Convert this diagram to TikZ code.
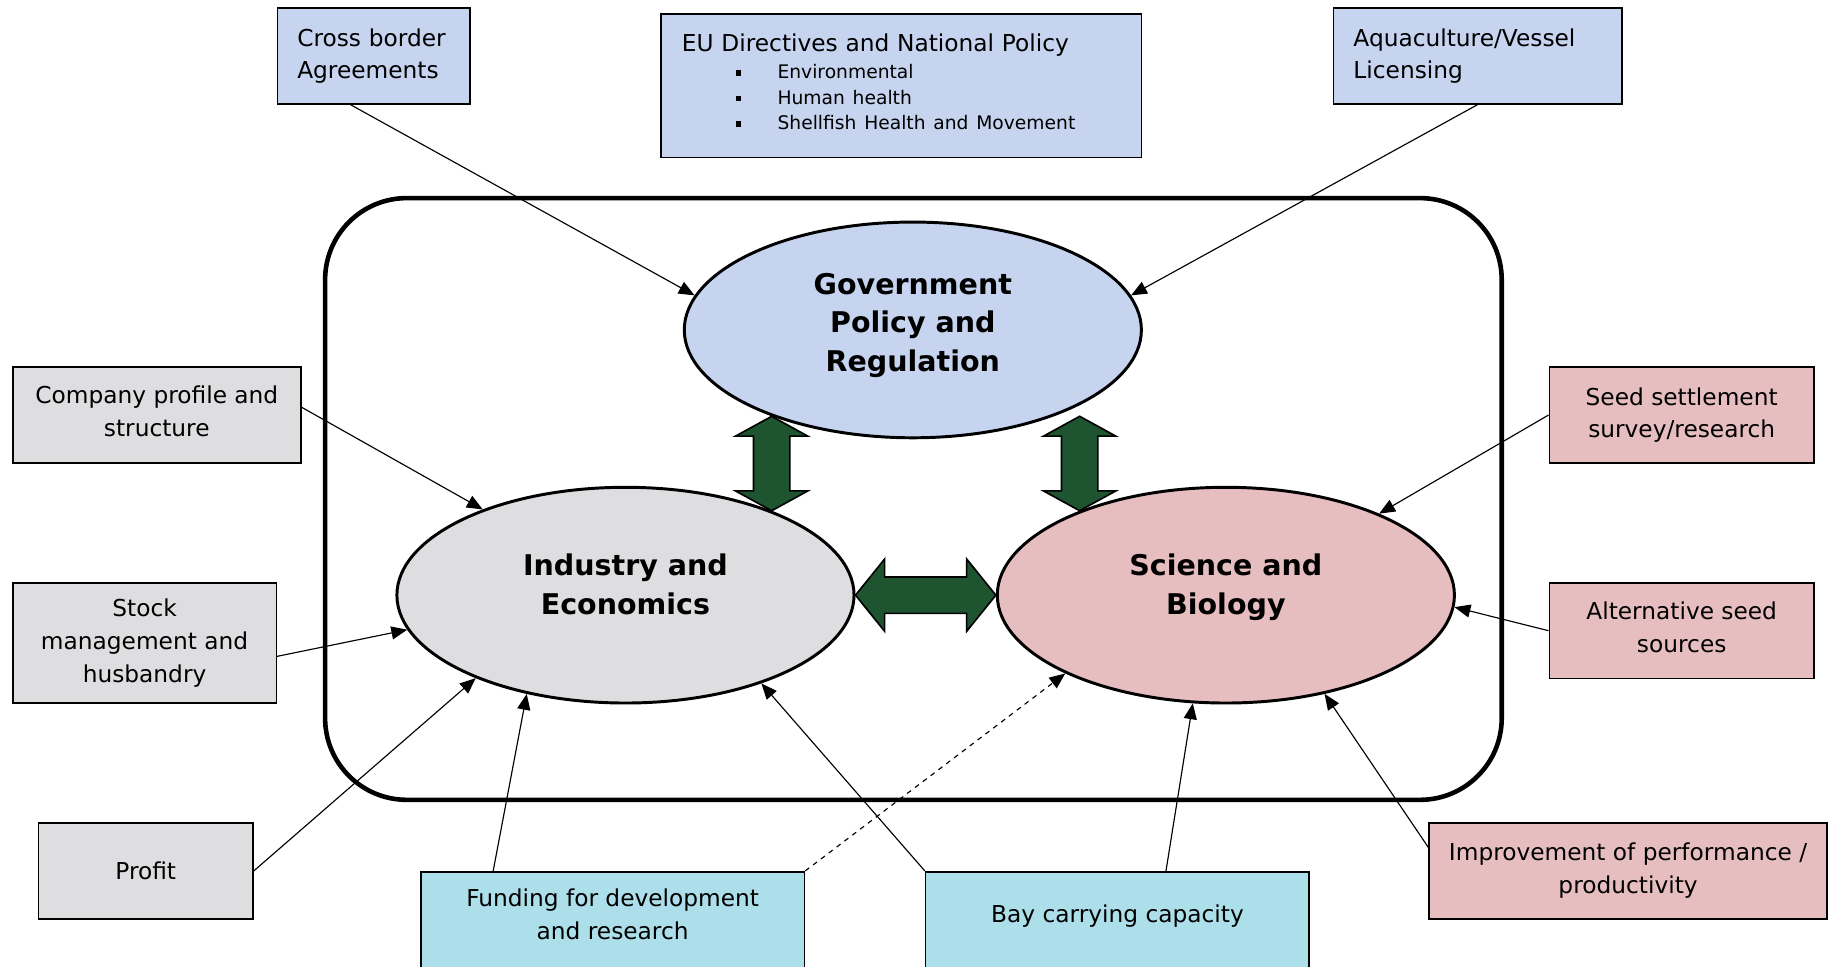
\documentclass[tikz,border=0pt]{standalone}
\usepackage{fontspec}
\setmainfont{DejaVu Sans}
\usepackage{xcolor}
\definecolor{policyblue}{RGB}{198,212,240}
\definecolor{marblegrey}{RGB}{222,222,225}
\definecolor{rosepink}{RGB}{231,190,192}
\definecolor{seacyan}{RGB}{172,223,234}
\definecolor{linkgreen}{RGB}{30,84,48}
\usepackage{tikz}
\usetikzlibrary{calc}
\usetikzlibrary{arrows.meta}
\usetikzlibrary{shapes.geometric}
\newcommand{\boxfont}{\fontsize{14.2pt}{19.9pt}\selectfont}
\newcommand{\itemfont}{\fontsize{11.4pt}{15.6pt}\selectfont}
\newcommand{\ovalfont}{\fontsize{17.4pt}{23.5pt}\selectfont\bfseries}
\newcommand{\heightbox}{2.05cm}
\newcommand{\widthoval}{9.8cm}
\newcommand{\heightoval}{4.625cm}
\newcommand{\bulletsq}{\rule[0.06cm]{0.12cm}{0.12cm}}
% two-headed block arrow between two points, #3 = head length
\newcommand{\twoway}[3]{%
    \coordinate (tw1) at ($(#1)!#3!(#2)$);
    \coordinate (tw2) at ($(#2)!#3!(#1)$);
    \draw[bridge] (#1)
        -- ($(tw1)!0.775cm!90:(#2)$) -- ($(tw1)!0.39cm!90:(#2)$)
        -- ($(tw2)!0.39cm!-90:(#1)$) -- ($(tw2)!0.775cm!-90:(#1)$)
        -- (#2)
        -- ($(tw2)!0.775cm!90:(#1)$) -- ($(tw2)!0.39cm!90:(#1)$)
        -- ($(tw1)!0.39cm!-90:(#2)$) -- ($(tw1)!0.775cm!-90:(#2)$)
        -- cycle;
}
\tikzset{
    common/.style={draw, rectangle, line width=1pt, font=\boxfont, minimum height=\heightbox},
    bluebox/.style={common, fill=policyblue, align=left},
    greybox/.style={common, fill=marblegrey, align=center},
    pinkbox/.style={common, fill=rosepink, align=center},
    seabox/.style={common, fill=seacyan, align=center, anchor=north},
    oval/.style={draw, ellipse, line width=1.8pt, inner sep=0pt, minimum width=\widthoval, minimum height=\heightoval, font=\ovalfont, align=center},
    arena/.style={draw, rectangle, line width=2.8pt, rounded corners=1.75cm, minimum width=25.225cm, minimum height=12.9cm},
    feed/.style={-{Triangle[length=3.4mm,width=2.8mm]}, line width=0.7pt},
    bridge/.style={draw=black, line width=1pt, fill=linkgreen}
}
\begin{document}
\begin{tikzpicture}[x=0.025cm, y=-0.025cm]
    \useasboundingbox (0,0) rectangle (1568,829);
    \node[arena] (arena) at (783.5,428) {};

    \node[oval, fill=policyblue] (gov) at (783,283) {Government\\Policy and\\Regulation\\[-0.5cm]};
    \node[oval, fill=marblegrey] (ind) at (536.5,510.5) {Industry and\\Economics\\[-0.35cm]};
    \node[oval, fill=rosepink] (sci) at (1051.5,510.5) {Science and\\Biology\\[-0.35cm]};

    \node[bluebox, minimum width=4.125cm, text width=3.275cm] (cross) at (320.5,48) {Cross border\\Agreements};
    \node[bluebox, minimum width=10.3cm, minimum height=3.075cm, text width=9.4cm] (eu) at (773,73.5)
        {EU Directives and National Policy\\[-3pt]
         {\itemfont\hspace*{1.15cm}\bulletsq\hspace*{0.78cm}Environmental}\\[-4.3pt]
         {\itemfont\hspace*{1.15cm}\bulletsq\hspace*{0.78cm}Human health}\\[-4.3pt]
         {\itemfont\hspace*{1.15cm}\bulletsq\hspace*{0.78cm}Shellfish Health and Movement\rule[-5pt]{0pt}{5pt}}};
    \node[bluebox, minimum width=6.175cm, text width=5.325cm] (licence) at (1267.5,48) {Aquaculture/Vessel\\Licensing};

    \node[greybox, minimum width=6.175cm] (company) at (134.5,356) {Company profile and\\structure\rule[-5pt]{0pt}{5pt}};
    \node[greybox, minimum width=5.65cm, minimum height=2.575cm] (stock) at (124,551.5) {Stock\\management and\\husbandry};
    \node[greybox, minimum width=4.6cm] (profit) at (125,747) {Profit};

    \node[seabox, minimum width=8.225cm, inner ysep=0.37cm] (funding) at (525.5,747) {Funding for development\\and research\\[2cm]};
    \node[seabox, minimum width=8.225cm, inner ysep=0.72cm] (bay) at (958.5,747) {Bay carrying capacity\\[2cm]};

    \node[pinkbox, minimum width=5.675cm] (seed) at (1442.5,356) {Seed settlement\\survey/research};
    \node[pinkbox, minimum width=5.675cm] (altseed) at (1442.5,541) {Alternative seed\\sources\rule[-4pt]{0pt}{4pt}};
    \node[pinkbox, minimum width=8.525cm] (improve) at (1396.5,747) {Improvement of performance /\\productivity};

    % block arrows between the three areas
    \coordinate (lefttop) at ($(ind.30)+(0,-81)$);
    \coordinate (righttop) at ($(sci.150)+(0,-81)$);
    \twoway{ind.east}{sci.west}{0.625cm}
    \twoway{ind.30}{lefttop}{0.425cm}
    \twoway{sci.150}{righttop}{0.425cm}

    \draw[feed] ($(cross.south west)!0.38!(cross.south east)$) -- (gov.171);
    \draw[feed] (licence.south) -- (gov.9);
    \draw[feed] ($(company.north east)!0.42!(company.south east)$) -- (ind.149);
    \draw[feed] ($(stock.north east)!0.61!(stock.south east)$) -- (ind.189);
    \draw[feed] (profit.east) -- (ind.209);
    \draw[feed] ($(funding.north west)!0.19!(funding.north east)$) -- (ind.225);
    \draw[feed, dashed] (funding.north east) -- (sci.206);
    \draw[feed] (bay.north west) -- (ind.327);
    \draw[feed] ($(bay.north west)!0.626!(bay.north east)$) -- (sci.253);
    \draw[feed] (seed.west) -- (sci.28);
    \draw[feed] (altseed.west) -- (sci.357);
    \draw[feed] ($(improve.north west)!0.26!(improve.south west)$) -- (sci.315);
\end{tikzpicture}
\end{document}
